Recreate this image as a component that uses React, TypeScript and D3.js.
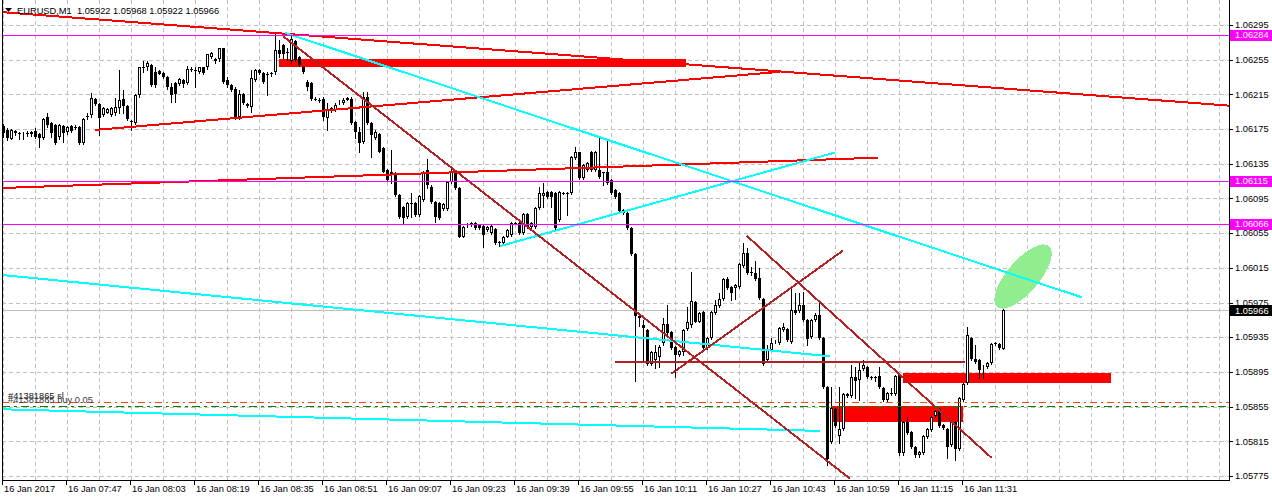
import { scaleLinear, range } from "d3";

const symbol = "EURUSD";
const period = "M1";

// M1 candles, one per minute from 07:31
const opens = [1.06179,1.06174,1.06164,1.06171,1.06171,1.06169,1.06171,1.06169,1.06173,1.06169,
1.06165,1.06189,1.06182,1.06180,1.06166,1.06179,1.06172,1.06179,1.06177,1.06177,
1.06159,1.06190,1.06191,1.06210,1.06204,1.06191,1.06194,1.06191,1.06194,1.06199,
1.06210,1.06202,1.06184,1.06182,1.06214,1.06246,1.06246,1.06249,1.06241,1.06242,
1.06240,1.06235,1.06224,1.06228,1.06227,1.06232,1.06228,1.06244,1.06243,1.06241,
1.06246,1.06246,1.06258,1.06256,1.06256,1.06268,1.06232,1.06226,1.06221,1.06189,
1.06216,1.06204,1.06201,1.06232,1.06243,1.06240,1.06238,1.06240,1.06241,1.06266,
1.06272,1.06264,1.06253,1.06276,1.06258,1.06247,1.06229,1.06228,1.06210,1.06209,
1.06210,1.06188,1.06197,1.06197,1.06205,1.06205,1.06209,1.06210,1.06183,1.06172,
1.06160,1.06212,1.06182,1.06165,1.06169,1.06153,1.06128,1.06125,1.06123,1.06099,
1.06085,1.06074,1.06090,1.06090,1.06076,1.06093,1.06128,1.06108,1.06091,1.06090,
1.06083,1.06083,1.06114,1.06125,1.06107,1.06051,1.06065,1.06067,1.06067,1.06065,
1.06063,1.06059,1.06055,1.06060,1.06045,1.06044,1.06051,1.06053,1.06067,1.06067,
1.06055,1.06077,1.06062,1.06062,1.06084,1.06098,1.06103,1.06103,1.06101,1.06070,
1.06101,1.06101,1.06101,1.06142,1.06148,1.06119,1.06128,1.06149,1.06128,1.06128,
1.06125,1.06125,1.06116,1.06105,1.06101,1.06082,1.06078,1.06061,1.06031,1.05960,
1.05949,1.05943,1.05904,1.05909,1.05912,1.05928,1.05950,1.05941,1.05924,1.05915,
1.05918,1.05945,1.05949,1.05976,1.05953,1.05964,1.05923,1.05934,1.05963,1.05971,
1.05979,1.06002,1.05993,1.05992,1.05993,1.06017,1.06032,1.06010,1.06009,1.06003,
1.05979,1.05909,1.05920,1.05930,1.05928,1.05943,1.05945,1.05930,1.05966,1.05965,
1.05972,1.05955,1.05935,1.05955,1.05961,1.05934,1.05878,1.05814,1.05852,1.05821,
1.05829,1.05870,1.05867,1.05889,1.05886,1.05898,1.05901,1.05889,1.05889,1.05890,
1.05877,1.05863,1.05871,1.05870,1.05892,1.05802,1.05837,1.05826,1.05808,1.05799,
1.05802,1.05820,1.05828,1.05844,1.05852,1.05834,1.05829,1.05811,1.05837,1.05806,
1.05863,1.05882,1.05934,1.05910,1.05909,1.05901,1.05901,1.05905,1.05928,1.05927,
1.05922];

const highs = [1.06181,1.06176,1.06175,1.06174,1.06172,1.06172,1.06173,1.06173,1.06176,1.06171,
1.06188,1.06194,1.06183,1.06181,1.06181,1.06180,1.06179,1.06180,1.06180,1.06179,
1.06188,1.06194,1.06217,1.06211,1.06205,1.06201,1.06199,1.06201,1.06211,1.06243,
1.06220,1.06203,1.06186,1.06216,1.06247,1.06253,1.06253,1.06250,1.06247,1.06243,
1.06241,1.06236,1.06228,1.06229,1.06234,1.06233,1.06248,1.06246,1.06247,1.06247,
1.06247,1.06262,1.06264,1.06257,1.06269,1.06269,1.06235,1.06227,1.06223,1.06220,
1.06217,1.06205,1.06243,1.06244,1.06244,1.06241,1.06241,1.06241,1.06287,1.06278,
1.06273,1.06269,1.06286,1.06278,1.06259,1.06248,1.06232,1.06229,1.06212,1.06211,
1.06212,1.06205,1.06201,1.06205,1.06209,1.06211,1.06212,1.06212,1.06184,1.06177,
1.06218,1.06218,1.06183,1.06174,1.06171,1.06154,1.06129,1.06151,1.06125,1.06100,
1.06086,1.06091,1.06101,1.06091,1.06099,1.06127,1.06140,1.06110,1.06092,1.06091,
1.06090,1.06115,1.06130,1.06126,1.06108,1.06063,1.06067,1.06068,1.06068,1.06066,
1.06065,1.06063,1.06065,1.06061,1.06046,1.06052,1.06060,1.06068,1.06068,1.06068,
1.06078,1.06078,1.06068,1.06085,1.06108,1.06113,1.06104,1.06104,1.06103,1.06104,
1.06103,1.06103,1.06144,1.06154,1.06149,1.06135,1.06137,1.06150,1.06150,1.06166,
1.06126,1.06163,1.06118,1.06106,1.06103,1.06083,1.06080,1.06062,1.06032,1.05963,
1.05955,1.05945,1.05919,1.05926,1.05926,1.05957,1.05972,1.05942,1.05925,1.05920,
1.05945,1.05970,1.06010,1.05977,1.05964,1.05965,1.05935,1.05965,1.05978,1.05986,
1.06003,1.06005,1.05994,1.05996,1.06021,1.06044,1.06038,1.06016,1.06023,1.06015,
1.05980,1.05926,1.05934,1.05932,1.05947,1.05951,1.05946,1.05993,1.05986,1.05986,
1.05987,1.05956,1.05956,1.05963,1.05978,1.05935,1.05879,1.05878,1.05853,1.05878,
1.05871,1.05871,1.05903,1.05901,1.05905,1.05909,1.05902,1.05890,1.05890,1.05901,
1.05878,1.05872,1.05877,1.05892,1.05893,1.05838,1.05843,1.05827,1.05810,1.05804,
1.05822,1.05830,1.05844,1.05851,1.05853,1.05835,1.05830,1.05838,1.05838,1.05866,
1.05882,1.05947,1.05935,1.05926,1.05910,1.05903,1.05906,1.05928,1.05930,1.05928,
1.05968];

const lows = [1.06166,1.06162,1.06163,1.06168,1.06163,1.06163,1.06167,1.06167,1.06165,1.06154,
1.06164,1.06177,1.06166,1.06158,1.06164,1.06160,1.06169,1.06172,1.06175,1.06158,
1.06158,1.06187,1.06189,1.06203,1.06168,1.06190,1.06193,1.06190,1.06191,1.06194,
1.06194,1.06186,1.06174,1.06181,1.06212,1.06241,1.06243,1.06225,1.06224,1.06238,
1.06234,1.06221,1.06206,1.06206,1.06226,1.06223,1.06227,1.06242,1.06223,1.06240,
1.06239,1.06244,1.06257,1.06251,1.06253,1.06228,1.06224,1.06219,1.06187,1.06187,
1.06204,1.06201,1.06195,1.06231,1.06239,1.06228,1.06214,1.06236,1.06238,1.06258,
1.06257,1.06255,1.06251,1.06253,1.06248,1.06240,1.06220,1.06209,1.06208,1.06206,
1.06186,1.06174,1.06195,1.06196,1.06204,1.06204,1.06208,1.06181,1.06165,1.06148,
1.06159,1.06181,1.06143,1.06164,1.06148,1.06125,1.06115,1.06113,1.06098,1.06073,
1.06067,1.06073,1.06074,1.06075,1.06075,1.06092,1.06107,1.06090,1.06068,1.06071,
1.06082,1.06082,1.06113,1.06106,1.06050,1.06050,1.06062,1.06063,1.06060,1.06060,
1.06039,1.06058,1.06054,1.06043,1.06040,1.06043,1.06050,1.06052,1.06065,1.06054,
1.06054,1.06061,1.06061,1.06061,1.06083,1.06085,1.06096,1.06085,1.06060,1.06069,
1.06100,1.06076,1.06100,1.06141,1.06118,1.06118,1.06127,1.06127,1.06127,1.06119,
1.06110,1.06112,1.06100,1.06096,1.06078,1.06077,1.06060,1.06030,1.05885,1.05948,
1.05909,1.05903,1.05903,1.05900,1.05901,1.05926,1.05939,1.05921,1.05889,1.05913,
1.05915,1.05943,1.05947,1.05952,1.05952,1.05921,1.05921,1.05933,1.05962,1.05970,
1.05978,1.05991,1.05978,1.05979,1.05992,1.06016,1.06008,1.06007,1.06001,1.05979,
1.05903,1.05908,1.05919,1.05928,1.05927,1.05942,1.05931,1.05928,1.05962,1.05964,
1.05954,1.05926,1.05934,1.05954,1.05933,1.05877,1.05788,1.05813,1.05832,1.05813,
1.05828,1.05866,1.05866,1.05865,1.05863,1.05897,1.05888,1.05887,1.05885,1.05877,
1.05862,1.05862,1.05868,1.05868,1.05799,1.05799,1.05823,1.05807,1.05797,1.05797,
1.05800,1.05819,1.05827,1.05843,1.05832,1.05829,1.05796,1.05810,1.05793,1.05805,
1.05862,1.05881,1.05909,1.05905,1.05888,1.05888,1.05900,1.05904,1.05926,1.05921,
1.05922];

const closes = [1.06171,1.06165,1.06174,1.06173,1.06171,1.06171,1.06171,1.06172,1.06166,1.06165,
1.06187,1.06180,1.06171,1.06159,1.06180,1.06171,1.06177,1.06173,1.06177,1.06159,
1.06187,1.06190,1.06211,1.06204,1.06188,1.06199,1.06198,1.06199,1.06201,1.06209,
1.06202,1.06187,1.06183,1.06214,1.06246,1.06246,1.06251,1.06226,1.06226,1.06239,
1.06235,1.06223,1.06214,1.06216,1.06233,1.06227,1.06244,1.06243,1.06243,1.06246,
1.06240,1.06261,1.06263,1.06253,1.06268,1.06229,1.06226,1.06220,1.06188,1.06216,
1.06205,1.06202,1.06234,1.06243,1.06240,1.06229,1.06238,1.06238,1.06266,1.06261,
1.06261,1.06264,1.06279,1.06255,1.06249,1.06241,1.06223,1.06210,1.06210,1.06209,
1.06189,1.06197,1.06199,1.06203,1.06206,1.06209,1.06211,1.06182,1.06172,1.06159,
1.06212,1.06182,1.06168,1.06172,1.06149,1.06126,1.06116,1.06122,1.06099,1.06074,
1.06073,1.06090,1.06089,1.06076,1.06098,1.06126,1.06110,1.06091,1.06074,1.06073,
1.06089,1.06114,1.06126,1.06107,1.06051,1.06062,1.06065,1.06065,1.06061,1.06061,
1.06053,1.06062,1.06063,1.06044,1.06044,1.06051,1.06059,1.06067,1.06067,1.06055,
1.06077,1.06062,1.06067,1.06084,1.06101,1.06101,1.06097,1.06097,1.06061,1.06103,
1.06101,1.06100,1.06143,1.06148,1.06119,1.06134,1.06136,1.06128,1.06149,1.06120,
1.06125,1.06113,1.06101,1.06097,1.06080,1.06078,1.06061,1.06031,1.05960,1.05957,
1.05946,1.05904,1.05918,1.05918,1.05924,1.05950,1.05940,1.05923,1.05915,1.05919,
1.05943,1.05952,1.05977,1.05953,1.05963,1.05923,1.05934,1.05964,1.05972,1.05979,
1.06002,1.05992,1.05986,1.05995,1.06020,1.06032,1.06009,1.06009,1.06002,1.05980,
1.05904,1.05922,1.05928,1.05931,1.05946,1.05947,1.05932,1.05966,1.05963,1.05972,
1.05955,1.05933,1.05955,1.05961,1.05934,1.05878,1.05795,1.05853,1.05833,1.05829,
1.05870,1.05867,1.05889,1.05885,1.05897,1.05903,1.05889,1.05888,1.05889,1.05878,
1.05863,1.05871,1.05871,1.05890,1.05802,1.05837,1.05825,1.05808,1.05799,1.05803,
1.05821,1.05829,1.05843,1.05850,1.05833,1.05830,1.05808,1.05837,1.05806,1.05865,
1.05881,1.05937,1.05910,1.05906,1.05897,1.05902,1.05905,1.05927,1.05928,1.05923,
1.05966];

const priceTicks = [1.06295, 1.06255, 1.06215, 1.06175, 1.06135, 1.06095, 1.06055,
  1.06015, 1.05975, 1.05935, 1.05895, 1.05855, 1.05815, 1.05775];

const timeLabels = ["16 Jan 2017", "16 Jan 07:47", "16 Jan 08:03", "16 Jan 08:19",
  "16 Jan 08:35", "16 Jan 08:51", "16 Jan 09:07", "16 Jan 09:23", "16 Jan 09:39",
  "16 Jan 09:55", "16 Jan 10:11", "16 Jan 10:27", "16 Jan 10:43", "16 Jan 10:59",
  "16 Jan 11:15", "16 Jan 11:31"];

// chart objects: [bar1, price1, bar2, price2]
const redLines = [
  [-0.9, 1.0631, 306.4, 1.06202],
  [22.9, 1.06174, 194.1, 1.06241],
  [-0.9, 1.06107, 218.6, 1.06142],
];
const cyanLines = [
  [70.4, 1.06286, 269.6, 1.05981],
  [124.1, 1.0604, 207.9, 1.06148],
  [-0.9, 1.06007, 206.6, 1.05913],
  [-0.9, 1.05852, 204.1, 1.05827],
];
const brownLines = [
  [69.9, 1.06282, 211.6, 1.05772],
  [167.0, 1.05893, 209.9, 1.06035],
  [185.8, 1.06052, 247.0, 1.05796],
  [152.9, 1.05906, 240.4, 1.05906],
];
const redRects = [
  [68.9, 1.06256, 170.6, 1.06247],
  [207.0, 1.05856, 239.9, 1.05837],
  [224.9, 1.05894, 276.9, 1.05882],
];
const ellipseAxis = [248.4, 1.0597, 261.4, 1.0604];
const ellipseRatio = 0.4;

const horizontalLevels = [1.06284, 1.06115, 1.06066];
const orderTicket = "#41381865";
const orderLots = "0.05";
const slLevel = 1.0586;
const buyLevel = 1.05856;

const FONT = "'Liberation Sans', Arial, sans-serif";
const FS = 9.3;

export default function App() {
  const width = 1272;
  const height = 501;
  const plotLeft = 2;
  const plotRight = 1229;
  const plotBottom = 480;

  const x = scaleLinear().domain([0, 250]).range([3.5, 1003.5]);
  const y = scaleLinear().domain([1.05775, 1.06295]).range([476, 25]);
  const py = (p: number) => Math.round(y(p)) + 0.5;

  const last = opens.length - 1;
  const bid = closes[last];
  const fmt = (v: number) => v.toFixed(5);
  const title = `${symbol},${period}  ${fmt(opens[last])} ${fmt(highs[last])} ${fmt(lows[last])} ${fmt(closes[last])}`;

  const gridBars = range(0, 306, 8);
  const seg = (d: number[], color: string, key: string) => (
    <line key={key} x1={x(d[0])} y1={y(d[1])} x2={x(d[2])} y2={y(d[3])}
      stroke={color} strokeWidth={2} />
  );
  const tickX = (k: number) => Math.floor(x(k * 16)) - 0.5;

  // ellipse from its major axis
  const ex1 = x(ellipseAxis[0]), ey1 = y(ellipseAxis[1]);
  const ex2 = x(ellipseAxis[2]), ey2 = y(ellipseAxis[3]);
  const eLen = Math.hypot(ex2 - ex1, ey2 - ey1);
  const eAngle = (Math.atan2(ey2 - ey1, ex2 - ex1) * 180) / Math.PI;
  const ecx = (ex1 + ex2) / 2, ecy = (ey1 + ey2) / 2;

  return (
    <div style={{ position: "absolute", left: 0, top: 0, background: "#fff" }}>
      <svg width={width} height={height} style={{ display: "block" }} fontFamily={FONT}>
        <defs>
          <clipPath id="plot">
            <rect x={plotLeft} y={0} width={plotRight - plotLeft} height={plotBottom} />
          </clipPath>
        </defs>
        <rect width={width} height={height} fill="#fff" />

        <g clipPath="url(#plot)" shapeRendering="crispEdges">
          {/* grid */}
          {priceTicks.map((p) => (
            <line key={"hg" + p} x1={plotLeft} x2={plotRight} y1={py(p)} y2={py(p)}
              stroke="#c0c0c0" strokeDasharray="4,3" />
          ))}
          {gridBars.map((b) => (
            <line key={"vg" + b} x1={x(b)} x2={x(b)} y1={0} y2={plotBottom}
              stroke="#c0c0c0" strokeDasharray="4,3" />
          ))}

          {/* background objects */}
          {redRects.map((r, i) => (
            <rect key={"rr" + i} x={x(r[0])} y={y(r[1])} width={x(r[2]) - x(r[0])}
              height={y(r[3]) - y(r[1])} fill="#ff0000" />
          ))}
          <ellipse cx={ecx} cy={ecy} rx={eLen / 2} ry={(eLen / 2) * ellipseRatio}
            transform={`rotate(${eAngle} ${ecx} ${ecy})`} fill="#90ee90" />

          <line x1={plotLeft} x2={plotRight} y1={py(bid)} y2={py(bid)} stroke="#c0c0c0" />

          {/* candles */}
          {opens.map((o, i) => {
            const c = closes[i];
            const cx = x(i);
            const yo = Math.round(y(o));
            const yc = Math.round(y(c));
            const yh = Math.round(y(highs[i]));
            const yl = Math.round(y(lows[i]));
            let body;
            if (yo === yc) {
              body = <line x1={cx - 1.5} x2={cx + 1.5} y1={yo + 0.5} y2={yo + 0.5} stroke="#000" />;
            } else if (c > o) {
              body = <rect x={cx - 1} y={yc + 0.5} width={2} height={Math.max(0, yo - yc - 1)}
                fill="#fff" stroke="#000" />;
            } else {
              body = <rect x={cx - 1.5} y={yo} width={3} height={yc - yo} fill="#000" />;
            }
            return (
              <g key={"c" + i}>
                <line x1={cx} x2={cx} y1={yh} y2={yl + 1} stroke="#000" />
                {body}
              </g>
            );
          })}

          {/* trendlines */}
          {redLines.map((d, i) => seg(d, "#ff0000", "rl" + i))}
          {cyanLines.map((d, i) => seg(d, "#00ffff", "cl" + i))}
          {brownLines.map((d, i) => seg(d, "#b22222", "bl" + i))}

          {horizontalLevels.map((p) => (
            <line key={"hl" + p} x1={plotLeft} x2={plotRight} y1={py(p)} y2={py(p)}
              stroke="#ff00ff" strokeWidth={1} />
          ))}

          {/* order lines */}
          <line x1={plotLeft} x2={plotRight} y1={py(slLevel)} y2={py(slLevel)}
            stroke="#ff4500" strokeDasharray="7,4,2,4" />
          <line x1={plotLeft} x2={plotRight} y1={py(buyLevel)} y2={py(buyLevel)}
            stroke="#008000" strokeDasharray="8,4,3,4" />
        </g>

        <text x={8} y={y(slLevel) - 3} fontSize={FS} fill="#202020">{orderTicket} sl</text>
        <text x={8} y={y(buyLevel) - 3} fontSize={FS} fill="#404040">{orderTicket} buy {orderLots}</text>

        {/* frame */}
        <g shapeRendering="crispEdges" stroke="#000">
          <line x1={plotLeft + 0.5} x2={plotLeft + 0.5} y1={0} y2={plotBottom + 1} />
          <line x1={plotRight + 0.5} x2={plotRight + 0.5} y1={0} y2={plotBottom + 1} />
          <line x1={plotLeft} x2={plotRight + 1} y1={plotBottom + 0.5} y2={plotBottom + 0.5} />
          {priceTicks.map((p) => (
            <line key={"pt" + p} x1={plotRight} x2={plotRight + 4} y1={py(p)} y2={py(p)} />
          ))}
          {timeLabels.map((_, k) => (
            <line key={"tt" + k} x1={tickX(k)} x2={tickX(k)} y1={plotBottom} y2={plotBottom + 5} />
          ))}
        </g>

        {/* price axis labels */}
        {priceTicks.map((p) => (
          <text key={"pl" + p} x={1235} y={y(p)} dy="0.35em" fontSize={FS} fill="#000">{fmt(p)}</text>
        ))}
        {horizontalLevels.map((p) => (
          <g key={"hlb" + p}>
            <rect x={1230} y={Math.round(y(p)) - 5} width={42} height={11} fill="#ff00ff" />
            <text x={1235} y={y(p)} dy="0.35em" fontSize={FS} fill="#fff">{fmt(p)}</text>
          </g>
        ))}
        <rect x={1230} y={Math.round(y(bid)) - 5} width={42} height={11} fill="#000" />
        <text x={1235} y={y(bid)} dy="0.35em" fontSize={FS} fill="#fff">{fmt(bid)}</text>

        {/* time axis labels */}
        {timeLabels.map((t, k) => (
          <text key={"tl" + k} x={tickX(k) + 1.5} y={489} dy="0.35em"
            fontSize={FS} fill="#000">{t}</text>
        ))}

        {/* title */}
        <path d="M5,8 L12,8 L8.5,12 Z" fill="#000" />
        <text x={17} y={11} dy="0.35em" fontSize={FS} fill="#000" xmlSpace="preserve">{title}</text>
      </svg>
    </div>
  );
}
